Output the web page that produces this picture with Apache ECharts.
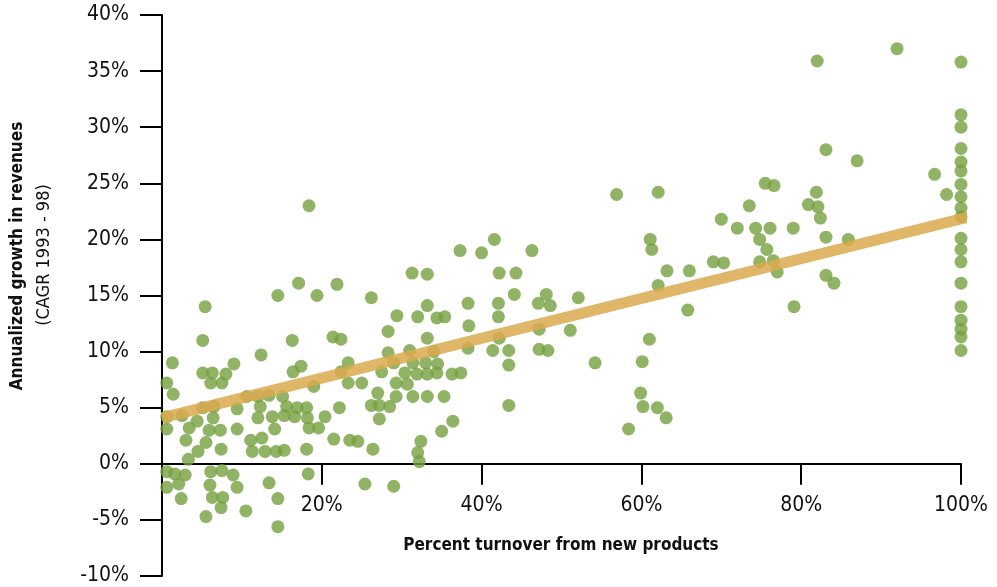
<!DOCTYPE html>
<html>
<head>
<meta charset="utf-8">
<script src="https://cdn.jsdelivr.net/npm/echarts@6/dist/echarts.min.js"></script>
<style>
  html, body { margin: 0; padding: 0; background: #ffffff; }
  #chart { width: 997px; height: 587px; }
</style>
</head>
<body>
<div id="chart"></div>
<script>
// Companies: share of turnover from new products (%) vs. revenue CAGR 1993-98 (%)
const turnoverPct = [
  0.6, 1.3, 1.4, 0.6, 2.5, 0.6, 3.4, 4.4, 3.0, 4.5, 3.3,
  5.4, 5.1, 5.1, 6.3, 8.0, 7.5, 6.1, 9.0, 12.4,
  14.5, 17.1, 19.4, 21.9, 16.3, 21.4, 22.4, 18.4,
  16.4, 17.4, 19.0, 22.4, 23.3, 23.3, 25.0,
  10.6, 12.0, 13.4, 15.1,
  5.1, 6.5, 9.4, 12.3, 15.6, 16.9, 18.1, 22.2,
  12.0, 13.8, 15.3, 16.6, 18.2, 20.4, 6.4,
  5.9, 7.3, 9.4, 14.1, 18.4, 19.6, 21.5,
  5.5, 11.1, 12.5,
  7.4, 11.3, 12.9, 14.3, 15.3, 18.1,
  0.6, 1.6, 2.9, 0.6, 2.1, 2.4, 6.1, 7.5, 8.9, 6.0, 9.4, 6.3, 7.6, 7.4, 5.5, 10.5,
  13.4, 14.5, 14.5, 18.3,
  25.4, 29.0,
  37.3, 40.0, 41.6, 46.3,
  31.3, 33.2, 42.2, 44.3,
  26.2, 33.2, 38.3, 42.1, 44.1, 47.1, 48.1, 48.6, 52.1,
  29.4, 32.0, 34.4, 35.4, 38.4, 42.1, 47.2, 51.1,
  28.3, 33.2, 42.2,
  31.0, 28.3, 34.0, 38.3, 41.4, 43.4, 47.2, 48.3,
  29.0, 31.4, 33.0, 34.5, 43.4, 54.2,
  27.5, 30.4, 31.9, 33.2, 34.4, 36.3, 37.4,
  29.3, 30.7, 27.0,
  26.2, 27.2, 28.5, 29.3, 31.4, 33.2, 35.3,
  27.2, 36.4, 35.0,
  23.5, 24.5, 26.4, 32.4, 32.0, 32.2, 43.4,
  56.9, 62.1, 61.1, 61.3, 63.2, 62.1, 65.8, 61.0, 60.1, 59.9, 60.2, 62.0, 63.1, 58.4,
  66.0, 69.0, 70.3, 70.0, 72.0, 73.5, 74.3, 74.8, 74.8, 75.5, 76.6, 75.7, 76.1, 76.5,
  77.0, 79.0, 79.1, 80.9, 81.9, 82.0, 82.1, 82.4, 83.1, 83.1, 83.1, 84.1, 85.9, 87.0,
  92.0, 96.7, 98.2,
  100, 100, 100, 100, 100, 100, 100, 100, 100, 100,
  100, 100, 100, 100, 100, 100, 100, 100, 100
];
const revenueCagr = [
  7.2, 9.0, 6.2, 4.2, 4.3, 3.1, 3.2, 3.8, 2.1, 1.1, 0.4,
  14.0, 11.0, 8.1, 8.1, 8.0, 7.2, 7.2, 8.9, 9.7,
  15.0, 16.1, 15.0, 16.0, 11.0, 11.3, 11.1, 23.0,
  8.2, 8.7, 6.9, 8.2, 9.0, 7.2, 7.2,
  6.0, 6.0, 6.1, 6.0,
  5.0, 5.1, 4.9, 5.1, 5.1, 5.0, 5.0, 5.0,
  4.1, 4.2, 4.3, 4.2, 4.1, 4.2, 4.1,
  3.0, 3.0, 3.1, 3.1, 3.2, 3.2, 2.2,
  1.9, 2.1, 2.3,
  1.3, 1.1, 1.1, 1.1, 1.2, 1.3,
  -0.7, -0.9, -1.0, -2.1, -1.8, -3.1, -0.7, -0.6, -1.0, -1.9, -2.1, -3.0, -3.0, -3.9, -4.7, -4.2,
  -1.7, -3.1, -5.6, -0.9,
  -1.8, -2.0,
  19.0, 18.8, 20.0, 19.0,
  17.0, 16.9, 17.0, 17.0,
  14.8, 14.1, 14.3, 14.3, 15.1, 14.3, 15.1, 14.1, 14.8,
  13.2, 13.1, 13.0, 13.1, 12.3, 13.1, 12.0, 11.9,
  11.8, 11.2, 11.2,
  10.1, 9.9, 10.0, 10.3, 10.1, 10.1, 10.2, 10.1,
  9.0, 9.0, 9.0, 8.9, 8.8, 9.0,
  8.2, 8.1, 8.0, 8.0, 8.1, 8.0, 8.1,
  7.2, 7.1, 6.3,
  5.2, 5.2, 5.1, 6.0, 6.0, 6.0, 6.0,
  4.0, 3.8, 2.9,
  2.1, 2.0, 1.3, 2.0, 1.0, 0.2, 5.2,
  24.0, 24.2, 20.0, 19.1, 17.2, 15.9, 13.7, 11.1, 9.1, 6.3, 5.1, 5.0, 4.1, 3.1,
  17.2, 18.0, 17.9, 21.8, 21.0, 23.0, 21.0, 20.0, 18.0, 25.0, 24.8, 19.1, 21.0, 18.1,
  17.1, 21.0, 14.0, 23.1, 24.2, 35.9, 22.9, 21.9, 28.0, 20.2, 16.8, 16.1, 20.0, 27.0,
  37.0, 25.8, 24.0,
  35.8, 31.1, 30.0, 28.1, 26.9, 26.1, 24.9, 23.8, 22.8, 22.0,
  20.1, 19.1, 18.0, 16.1, 14.0, 12.8, 12.0, 11.3, 10.1
];

// Fitted trend line end points (x %, y %)
const trendX = [0, 101.5];
const trendY = [4.1, 22.1];

const xTicks = [20, 40, 60, 80, 100];
const yMin = -10, yMax = 40, yStep = 5;

const FONT = "'Liberation Sans Narrow', 'DejaVu Sans Condensed', 'Roboto', sans-serif";

const points = turnoverPct.map((x, i) => [x, revenueCagr[i]]);
const trend = trendX.map((x, i) => [x, trendY[i]]);

const GRID_TOP = 15, GRID_BOTTOM = 11, H = 587;
// shift the x axis up from the grid bottom to the 0% line
const plotH = H - GRID_TOP - GRID_BOTTOM;
const zeroShift = plotH * (0 - yMin) / (yMax - yMin);

const chart = echarts.init(document.getElementById('chart'), null, { renderer: 'canvas' });

chart.setOption({
  animation: false,
  backgroundColor: '#ffffff',
  grid: {
    left: 162, right: 36, top: GRID_TOP, bottom: GRID_BOTTOM,
    containLabel: false, outerBoundsMode: 'none'
  },
  xAxis: {
    type: 'value',
    min: 0, max: 100, interval: 20,
    offset: -zeroShift,
    axisLine: { show: true, onZero: false, lineStyle: { color: '#000', width: 2 } },
    axisTick: { show: true, inside: false, length: 21, lineStyle: { color: '#000', width: 2 } },
    axisLabel: {
      margin: 31,
      color: '#111', fontFamily: FONT, fontSize: 21,
      formatter: v => (xTicks.indexOf(v) >= 0 ? v + '%' : '')
    },
    splitLine: { show: false }
  },
  yAxis: {
    type: 'value',
    min: yMin, max: yMax, interval: yStep,
    axisLine: { show: true, onZero: false, lineStyle: { color: '#000', width: 2 } },
    axisTick: { show: true, inside: false, length: 22, lineStyle: { color: '#000', width: 2 } },
    axisLabel: {
      margin: 33,
      color: '#111', fontFamily: FONT, fontSize: 21,
      formatter: v => v + '%'
    },
    splitLine: { show: false }
  },
  series: [
    {
      type: 'scatter',
      data: points,
      symbol: 'circle',
      symbolSize: 13,
      itemStyle: { color: '#76a03f' },
      z: 2
    },
    {
      type: 'line',
      data: trend,
      clip: false,
      symbol: 'none',
      lineStyle: { color: '#dba94f', width: 11, opacity: 0.85, cap: 'butt' },
      z: 3
    }
  ],
  graphic: [
    {
      type: 'text',
      x: 18, y: 256, rotation: Math.PI / 2,
      style: {
        text: 'Annualized growth in revenues',
        font: "bold 17px " + FONT,
        fill: '#111',
        textAlign: 'center', textVerticalAlign: 'middle'
      }
    },
    {
      type: 'text',
      x: 44, y: 255, rotation: Math.PI / 2,
      style: {
        text: '(CAGR 1993 - 98)',
        font: "18px " + FONT,
        fill: '#111',
        textAlign: 'center', textVerticalAlign: 'middle'
      }
    },
    {
      type: 'text',
      x: 561, y: 546,
      style: {
        text: 'Percent turnover from new products',
        font: "bold 17px " + FONT,
        fill: '#111',
        textAlign: 'center', textVerticalAlign: 'middle'
      }
    }
  ]
});
</script>
</body>
</html>
